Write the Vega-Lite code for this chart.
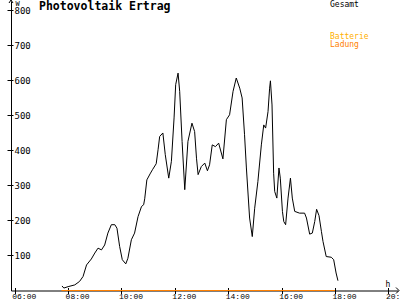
{
  "$schema": "https://vega.github.io/schema/vega-lite/v6.json",
  "width": 387,
  "height": 289.5,
  "autosize": "none",
  "padding": {"left": 11, "top": 1, "right": 2, "bottom": 9.5},
  "background": "white",
  "config": {"view": {"stroke": null}, "axis": {"grid": false}},
  "title": {
    "text": "Photovoltaik Ertrag",
    "anchor": "start",
    "frame": "group",
    "dx": 28,
    "dy": 23.5,
    "offset": 0,
    "baseline": "alphabetic",
    "font": "DejaVu Sans Mono",
    "fontSize": 11.5,
    "fontWeight": "bold",
    "color": "black"
  },
  "layer": [
    {
      "data": {
        "values": [
          {"h": 7.77, "w": 13}, {"h": 7.84, "w": 7}, {"h": 8.0, "w": 11}, {"h": 8.25, "w": 16},
          {"h": 8.43, "w": 26}, {"h": 8.56, "w": 40}, {"h": 8.69, "w": 73}, {"h": 8.87, "w": 90},
          {"h": 9.0, "w": 107}, {"h": 9.12, "w": 121}, {"h": 9.25, "w": 116}, {"h": 9.37, "w": 130},
          {"h": 9.49, "w": 164}, {"h": 9.62, "w": 188}, {"h": 9.75, "w": 188}, {"h": 9.83, "w": 178},
          {"h": 9.93, "w": 126}, {"h": 10.03, "w": 88}, {"h": 10.16, "w": 76}, {"h": 10.24, "w": 92},
          {"h": 10.37, "w": 145}, {"h": 10.49, "w": 164}, {"h": 10.62, "w": 211}, {"h": 10.75, "w": 240},
          {"h": 10.83, "w": 245}, {"h": 10.87, "w": 262}, {"h": 10.95, "w": 316}, {"h": 11.07, "w": 333},
          {"h": 11.16, "w": 345}, {"h": 11.3, "w": 362}, {"h": 11.37, "w": 402}, {"h": 11.43, "w": 440},
          {"h": 11.55, "w": 450}, {"h": 11.64, "w": 388}, {"h": 11.77, "w": 321}, {"h": 11.87, "w": 369},
          {"h": 11.97, "w": 493}, {"h": 12.03, "w": 588}, {"h": 12.12, "w": 621}, {"h": 12.18, "w": 569},
          {"h": 12.27, "w": 426}, {"h": 12.37, "w": 288}, {"h": 12.49, "w": 426}, {"h": 12.64, "w": 478},
          {"h": 12.74, "w": 454}, {"h": 12.81, "w": 378}, {"h": 12.87, "w": 331}, {"h": 12.99, "w": 354},
          {"h": 13.12, "w": 364}, {"h": 13.22, "w": 342}, {"h": 13.3, "w": 359}, {"h": 13.4, "w": 416},
          {"h": 13.52, "w": 411}, {"h": 13.64, "w": 421}, {"h": 13.8, "w": 376}, {"h": 13.93, "w": 488},
          {"h": 14.05, "w": 502}, {"h": 14.18, "w": 569}, {"h": 14.3, "w": 607}, {"h": 14.43, "w": 578},
          {"h": 14.52, "w": 550}, {"h": 14.61, "w": 445}, {"h": 14.68, "w": 350}, {"h": 14.8, "w": 207},
          {"h": 14.9, "w": 154}, {"h": 14.99, "w": 235}, {"h": 15.11, "w": 311}, {"h": 15.24, "w": 416},
          {"h": 15.33, "w": 473}, {"h": 15.4, "w": 464}, {"h": 15.49, "w": 511}, {"h": 15.55, "w": 578},
          {"h": 15.58, "w": 599}, {"h": 15.64, "w": 530}, {"h": 15.7, "w": 335}, {"h": 15.74, "w": 283},
          {"h": 15.82, "w": 264}, {"h": 15.9, "w": 350}, {"h": 15.95, "w": 321}, {"h": 16.03, "w": 226},
          {"h": 16.08, "w": 197}, {"h": 16.15, "w": 188}, {"h": 16.24, "w": 264}, {"h": 16.33, "w": 321},
          {"h": 16.4, "w": 264}, {"h": 16.49, "w": 226}, {"h": 16.67, "w": 221}, {"h": 16.86, "w": 221},
          {"h": 16.93, "w": 207}, {"h": 17.05, "w": 161}, {"h": 17.15, "w": 164}, {"h": 17.24, "w": 197},
          {"h": 17.31, "w": 232}, {"h": 17.4, "w": 214}, {"h": 17.49, "w": 169}, {"h": 17.55, "w": 140},
          {"h": 17.67, "w": 97}, {"h": 17.86, "w": 95}, {"h": 17.95, "w": 88}, {"h": 18.04, "w": 50},
          {"h": 18.11, "w": 28}
        ]
      },
      "mark": {"type": "line", "strokeWidth": 1},
      "encoding": {
        "x": {
          "field": "h", "type": "quantitative",
          "scale": {"domain": [5.86, 20.36], "nice": false, "zero": false},
          "axis": {
            "orient": "bottom",
            "values": [6, 8, 10, 12, 14, 16, 18, 20],
            "labelExpr": "(datum.value < 10 ? '0' : '') + datum.value + ':00'",
            "labelAlign": "left", "labelOffset": -3, "labelBaseline": "top",
            "labelFont": "Liberation Mono", "labelFontSize": 8, "labelPadding": -1,
            "labelColor": "black", "labelFlush": false, "labelOverlap": false,
            "tickSize": 3, "tickColor": "black", "domainColor": "black",
            "title": "h", "titleX": 374, "titleY": -4.5, "titleAlign": "left",
            "titleBaseline": "alphabetic", "titleFont": "DejaVu Sans Mono",
            "titleFontSize": 8, "titleFontWeight": "normal", "titleColor": "black",
            "grid": false
          }
        },
        "y": {
          "field": "w", "type": "quantitative",
          "scale": {"domain": [0, 827], "nice": false},
          "axis": {
            "orient": "left",
            "values": [100, 200, 300, 400, 500, 600, 700, 800],
            "labels": false, "tickSize": 4, "tickColor": "black", "domainColor": "black",
            "title": "W", "titleAngle": 0, "titleX": 4, "titleY": 4, "titleAlign": "left",
            "titleBaseline": "alphabetic", "titleFont": "DejaVu Sans Mono",
            "titleFontSize": 7, "titleFontWeight": "normal", "titleColor": "black",
            "grid": false
          }
        },
        "color": {
          "datum": "Gesamt", "type": "nominal",
          "scale": {
            "domain": ["Gesamt", "n1", "n2", "n3", "Batterie", "Ladung"],
            "range": ["black", "white", "white", "white", "#FFB000", "#FF8000"]
          },
          "legend": {
            "orient": "none", "legendX": 311, "legendY": 0, "title": null,
            "padding": 0, "offset": 0, "rowPadding": 0,
            "labelFont": "DejaVu Sans Mono", "labelFontSize": 8, "labelOffset": 0,
            "symbolSize": 0, "symbolOpacity": 0, "symbolStrokeWidth": 0,
            "labelExpr": "datum.label == 'Gesamt' || datum.label == 'Batterie' || datum.label == 'Ladung' ? datum.label : ' '",
            "encode": {"labels": {"update": {"fill": {"scale": "color", "field": "value"}}}}
          }
        }
      }
    },
    {
      "data": {"values": [{"h": 7.75, "w": 0}, {"h": 18.0, "w": 0}]},
      "mark": {"type": "line", "strokeWidth": 1},
      "encoding": {
        "x": {
          "field": "h", "type": "quantitative",
          "axis": {
            "orient": "top", "offset": -289.5,
            "values": [6, 8, 10, 12, 14, 16, 18, 20],
            "labels": false, "domain": false, "tickSize": 3, "tickColor": "black",
            "title": null, "grid": false
          }
        },
        "y": {
          "field": "w", "type": "quantitative",
          "axis": {
            "orient": "right", "offset": -387,
            "values": [100, 200, 300, 400, 500, 600, 700, 800],
            "domain": false, "tickSize": 2, "tickColor": "black",
            "labelAlign": "left", "labelPadding": 1, "labelBaseline": "middle",
            "labelFont": "DejaVu Sans Mono", "labelFontSize": 9, "labelColor": "black",
            "title": null, "grid": false
          }
        },
        "color": {"datum": "Ladung", "type": "nominal"}
      }
    },
    {
      "data": {"values": [{"h": 5.86, "w": 827, "dir": "up"}, {"h": 20.36, "w": 0, "dir": "right"}]},
      "mark": {"type": "point", "filled": false, "strokeWidth": 1, "size": 16, "opacity": 1},
      "encoding": {
        "x": {"field": "h", "type": "quantitative", "axis": null},
        "y": {"field": "w", "type": "quantitative", "axis": null},
        "shape": {
          "field": "dir", "type": "nominal",
          "scale": {"domain": ["up", "right"], "range": ["M-1,1L0,-0.5L1,1", "M-1,-1.5L0.5,0L-1,1.5"]},
          "legend": null
        },
        "stroke": {"value": "black"}
      }
    }
  ],
  "resolve": {"axis": {"x": "independent", "y": "independent"}}
}
